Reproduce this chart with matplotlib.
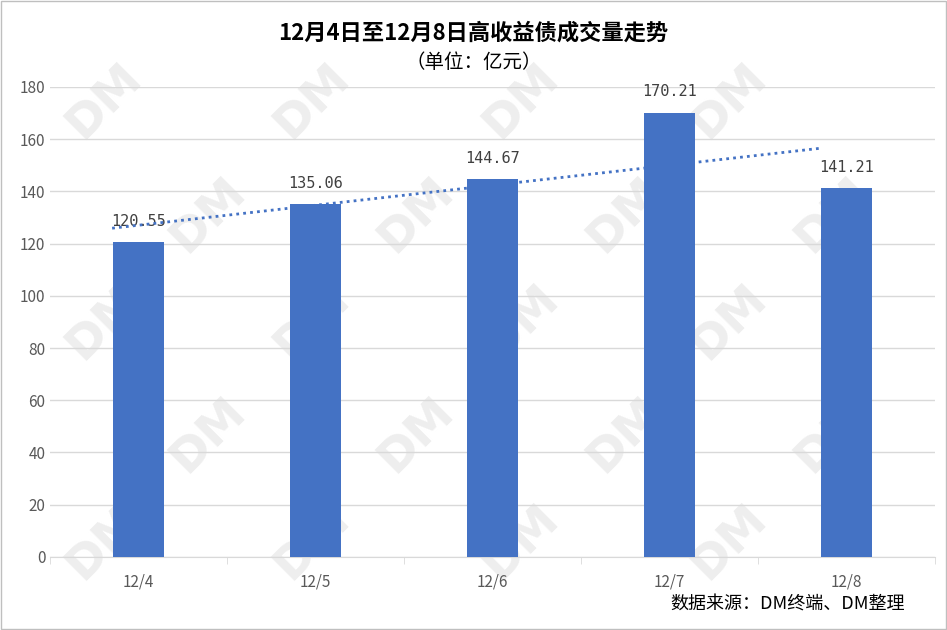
import matplotlib
matplotlib.use("Agg")
import matplotlib.pyplot as plt
import numpy as np

plt.rcParams['font.family'] = ['Noto Sans CJK SC', 'DejaVu Sans']

categories = ["12/4", "12/5", "12/6", "12/7", "12/8"]
values = [120.55, 135.06, 144.67, 170.21, 141.21]
yticks = [0, 20, 40, 60, 80, 100, 120, 140, 160, 180]

fig = plt.figure(figsize=(9.47, 6.3), dpi=100)
fig.patches.append(plt.Rectangle((0.001, 0.001), 0.998, 0.998, transform=fig.transFigure,
                                 fill=False, edgecolor='#bfbfbf', lw=1))
ax = fig.add_axes([0.053, 0.116, 0.934, 0.746])
ax.set_zorder(2)

# watermarks
rows = [0.84, 0.66, 0.49, 0.31, 0.14]
for row, yy in enumerate(rows):
    off = 0 if row % 2 == 0 else 0.11
    for xx in np.arange(0.11 + off, 0.96, 0.22):
        fig.text(xx, yy, "DM", fontsize=34, fontweight='bold', color='#eeeeee',
                 rotation=45, ha='center', va='center', zorder=0, family='DejaVu Sans')

x = np.arange(len(categories))
ax.bar(x, values, width=0.29, color='#4472C4', zorder=3)
for xi, v in zip(x, values):
    ax.text(xi, v + 5, f"{v:.2f}", ha='center', va='bottom', fontsize=11, color='#404040',
            family='DejaVu Sans Mono', zorder=4)
coef = np.polyfit(x, values, 1)
xt = np.array([x[0] - 0.15, x[-1] - 0.15])
ax.plot(xt, np.polyval(coef, xt), ls=(0, (1, 1.5)), color='#4472C4', lw=2, zorder=4)

ax.set_xlim(-0.5, len(categories) - 0.5)
ax.set_ylim(0, 180)
ax.set_yticks(yticks)
ax.set_xticks(x)
ax.set_xticklabels(categories)
ax.set_xticks(np.arange(-0.5, len(categories), 1), minor=True)
ax.tick_params(axis='x', which='major', length=0, pad=12, labelsize=11, labelcolor='#595959')
ax.tick_params(axis='x', which='minor', length=5, color='#d9d9d9')
ax.tick_params(axis='y', length=0, labelsize=11, labelcolor='#595959')
ax.grid(axis='y', color='#d9d9d9', lw=1, zorder=0)
for s in ['top', 'right', 'left']:
    ax.spines[s].set_visible(False)
ax.spines['bottom'].set_color('#d9d9d9')
ax.patch.set_alpha(0)

fig.text(0.5, 0.948, "12月4日至12月8日高收益债成交量走势", ha='center', va='center',
         fontsize=16, fontweight='bold')
fig.text(0.5, 0.9, "（单位：亿元）", ha='center', va='center', fontsize=14)
fig.text(0.955, 0.04, "数据来源：DM终端、DM整理", ha='right', va='center', fontsize=13)

fig.savefig("out.png", dpi=100)
